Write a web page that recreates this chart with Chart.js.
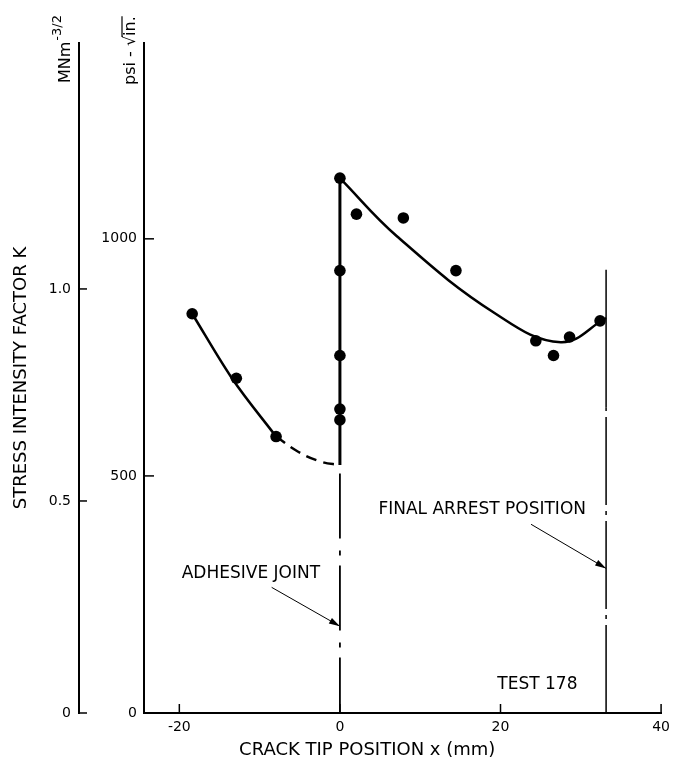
<!DOCTYPE html>
<html>
<head>
<meta charset="utf-8">
<script src="https://cdn.jsdelivr.net/npm/chart.js@4.4.1/dist/chart.umd.min.js"></script>
<style>
  body { margin: 0; background: #fff; }
  #wrap { width: 676px; height: 769px; }
</style>
</head>
<body>
<div id="wrap"><canvas id="chart"></canvas></div>
<script>
// measured points: crack tip position x (mm) and K (psi-sqrt(in))
const pointX = [-18.4, -12.9, -7.95, 0, 0, 0, 0, 0, 2.06, 7.9, 14.45, 24.4, 26.6, 28.6, 32.4];
const pointK = [842, 706, 583, 1128, 933, 754, 641, 618, 1052, 1044, 933, 785, 754, 793, 827];

// drawn curves
const leftCurveX = [-18.4, -13.45, -7.95];
const leftCurveK = [842, 706, 583];
const leftDashX = [-7.95, -5.2, -2.35, 0];
const leftDashK = [583, 551, 530, 523];
const jumpX = [0, 0];
const jumpK = [523, 1128];
const rightCurveX = [0, 7.06, 19.3, 27.5, 33.15];
const rightCurveK = [1128, 1006, 843, 782, 833];

// marker lines
const jointX = 0;
const jointK = [505, 0];
const arrestX = 33.15;
const arrestDashK = [0, 645];
const arrestSolidK = [645, 935];

// axes
const xTicks = [-20, 0, 20, 40];
const psiTicks = [0, 500, 1000];
const mnTicks = [0, 0.5, 1.0];
const mnTickLabels = ['0', '0.5', '1.0'];

// annotations (data units)
const notes = [
  { text: 'ADHESIVE JOINT', x: -19.7, k: 295 },
  { text: 'FINAL ARREST POSITION', x: 4.8, k: 428 },
  { text: 'TEST 178', x: 19.6, k: 59 }
];
const arrows = [
  { from: [-8.5, 265], to: [0, 183] },
  { from: [23.8, 398], to: [33.15, 305] }
];

Chart.defaults.font.family = '"DejaVu Sans", sans-serif';
Chart.defaults.color = '#000';

const pts = (xs, ks) => xs.map((v, i) => ({ x: v, y: ks[i] }));
const vline = (x, ks) => ks.map(k => ({ x: x, y: k }));

const inkPlugin = {
  id: 'ink',
  afterDraw(chart) {
    const { ctx, chartArea, scales } = chart;
    const x = scales.x, y = scales.y, y2 = scales.y2;
    const seg = (x1, y1, x2, y2_) => { ctx.beginPath(); ctx.moveTo(x1, y1); ctx.lineTo(x2, y2_); ctx.stroke(); };
    ctx.save();
    ctx.strokeStyle = '#000';
    ctx.fillStyle = '#000';

    // inward tick marks
    ctx.lineWidth = 1.5;
    xTicks.forEach(v => {
      const px = x.getPixelForValue(v);
      seg(px, chartArea.bottom, px, chartArea.bottom - 9);
    });
    psiTicks.slice(1).forEach(v => {
      const py = y.getPixelForValue(v);
      seg(y.right, py, y.right + 10, py);
    });
    mnTicks.forEach(v => {
      const py = y2.getPixelForValue(v);
      seg(y2.right, py, y2.right + 8, py);
    });

    // unit labels at the top of each axis
    ctx.textAlign = 'left';
    ctx.textBaseline = 'alphabetic';
    ctx.save();
    ctx.translate(y2.right - 9, chartArea.top + 40);
    ctx.rotate(-Math.PI / 2);
    ctx.font = '16px "DejaVu Sans"';
    ctx.fillText('MNm', 0, 0);
    const w = ctx.measureText('MNm').width;
    ctx.font = '13px "DejaVu Sans"';
    ctx.fillText('-3/2', w + 1, -9);
    ctx.restore();

    ctx.save();
    ctx.translate(y.right - 9, chartArea.top + 42);
    ctx.rotate(-Math.PI / 2);
    ctx.font = '16px "DejaVu Sans"';
    ctx.fillText('psi - \u221Ain.', 0, 0);
    const a = ctx.measureText('psi - \u221A').width;
    const b = ctx.measureText('psi - \u221Ain.').width;
    ctx.lineWidth = 1.2;
    seg(a - 1, -13, b, -13);
    ctx.restore();

    // x axis title
    ctx.font = '18px "DejaVu Sans"';
    ctx.textBaseline = 'middle';
    ctx.textAlign = 'center';
    ctx.fillText('CRACK TIP POSITION x (mm)', x.getPixelForValue(3.4), chartArea.bottom + 37);

    // annotations
    ctx.font = '17px "DejaVu Sans"';
    ctx.textAlign = 'left';
    notes.forEach(n => {
      ctx.fillText(n.text, x.getPixelForValue(n.x), y.getPixelForValue(n.k));
    });

    ctx.lineWidth = 1;
    arrows.forEach(ar => {
      const x1 = x.getPixelForValue(ar.from[0]), y1 = y.getPixelForValue(ar.from[1]);
      const x2 = x.getPixelForValue(ar.to[0]), y2p = y.getPixelForValue(ar.to[1]);
      seg(x1, y1, x2, y2p);
      const ang = Math.atan2(y2p - y1, x2 - x1);
      const len = 11, half = 3.2;
      ctx.beginPath();
      ctx.moveTo(x2, y2p);
      ctx.lineTo(x2 - len * Math.cos(ang) + half * Math.sin(ang), y2p - len * Math.sin(ang) - half * Math.cos(ang));
      ctx.lineTo(x2 - len * Math.cos(ang) - half * Math.sin(ang), y2p - len * Math.sin(ang) + half * Math.cos(ang));
      ctx.closePath();
      ctx.fill();
    });
    ctx.restore();
  }
};

const lineStyle = { showLine: true, borderColor: '#000', pointRadius: 0, fill: false };

new Chart('chart', {
  type: 'scatter',
  data: {
    datasets: [
      { ...lineStyle, data: pts(leftCurveX, leftCurveK), borderWidth: 2.5, cubicInterpolationMode: 'monotone' },
      { ...lineStyle, data: pts(leftDashX, leftDashK), borderWidth: 2.5, borderDash: [11, 7], tension: 0.4 },
      { ...lineStyle, data: pts(jumpX, jumpK), borderWidth: 3 },
      { ...lineStyle, data: pts(rightCurveX, rightCurveK), borderWidth: 2.5, tension: 0.4 },
      { ...lineStyle, data: vline(jointX, jointK), borderWidth: 1.8, borderDash: [65, 12, 5, 10] },
      { ...lineStyle, data: vline(arrestX, arrestDashK), borderWidth: 1.5, borderDash: [88, 6, 4, 6] },
      { ...lineStyle, data: vline(arrestX, arrestSolidK), borderWidth: 1.5 },
      {
        data: pts(pointX, pointK),
        showLine: false,
        pointRadius: 5.8,
        pointBackgroundColor: '#000',
        pointBorderWidth: 0
      }
    ]
  },
  options: {
    responsive: true,
    maintainAspectRatio: false,
    animation: false,
    layout: { padding: { top: 43, right: 8, bottom: 0, left: 0 } },
    plugins: {
      legend: { display: false },
      tooltip: { enabled: false }
    },
    scales: {
      x: {
        type: 'linear',
        position: 'bottom',
        min: -24.4,
        max: 40,
        grid: { display: false, drawTicks: false },
        border: { color: '#000', width: 2 },
        ticks: { font: { size: 14 }, padding: 6 },
        afterBuildTicks: s => { s.ticks = xTicks.map(v => ({ value: v })); },
        afterFit: s => { s.height = 56; }
      },
      y: {
        type: 'linear',
        position: 'left',
        weight: 0,
        min: 0,
        max: 1413,
        grid: { display: false, drawTicks: false },
        border: { color: '#000', width: 2 },
        ticks: { font: { size: 14 }, padding: 7, callback: v => String(v) },
        afterBuildTicks: s => { s.ticks = psiTicks.map(v => ({ value: v })); },
        afterFit: s => { s.width = 65; }
      },
      y2: {
        type: 'linear',
        position: 'left',
        weight: 10,
        min: 0,
        max: 1.58,
        grid: { display: false, drawTicks: false },
        border: { color: '#000', width: 2 },
        ticks: { font: { size: 14 }, padding: 8, callback: (v, i) => mnTickLabels[i] },
        title: {
          display: true,
          text: 'STRESS INTENSITY FACTOR K',
          font: { size: 18 },
          padding: { top: 11, bottom: 0 }
        },
        afterBuildTicks: s => { s.ticks = mnTicks.map(v => ({ value: v })); },
        afterFit: s => { s.width = 79; }
      }
    }
  },
  plugins: [inkPlugin]
});
</script>
</body>
</html>
